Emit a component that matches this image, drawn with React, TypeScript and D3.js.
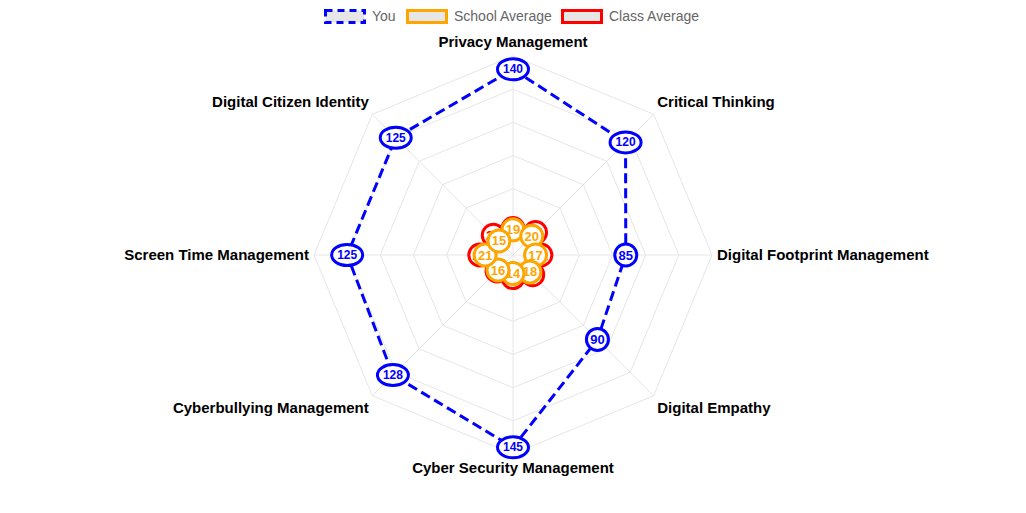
import React from 'react';
import * as d3 from 'd3';

// axis labels, clockwise from the top
const categories = [
  'Privacy Management',
  'Critical Thinking',
  'Digital Footprint Management',
  'Digital Empathy',
  'Cyber Security Management',
  'Cyberbullying Management',
  'Screen Time Management',
  'Digital Citizen Identity',
];

const youValues = [140, 120, 85, 90, 145, 128, 125, 125];
const schoolValues = [19, 20, 17, 18, 14, 16, 21, 15];
const classValues = [20, 24, 21, 21, 17, 17, 25, 21];

const gridTicks = [25, 50, 75, 100, 125, 150];

const W = 1026;
const H = 513;
const cx = 513;
const cy = 255;
const R = 199;
const FONT = '"Liberation Sans", Arial, Helvetica, sans-serif';

const series = [
  { name: 'Class Average', values: classValues, color: '#ff0000', dash: null },
  { name: 'School Average', values: schoolValues, color: '#ffa500', dash: null },
  { name: 'You', values: youValues, color: '#0000ff', dash: '10,5' },
];

const legendItems = [
  { name: 'You', color: '#0000ff', dash: '7,5', x: 324 },
  { name: 'School Average', color: '#ffa500', dash: null, x: 406 },
  { name: 'Class Average', color: '#ff0000', dash: null, x: 561 },
];

const rScale = d3.scaleLinear().domain([0, 150]).range([0, R]);
const angleOf = (i: number) => (i * 2 * Math.PI) / categories.length;
const pos = (i: number, r: number) => [
  cx + r * Math.sin(angleOf(i)),
  cy - r * Math.cos(angleOf(i)),
];

const radial = d3
  .lineRadial<number>()
  .angle((_, i) => angleOf(i))
  .radius((d) => rScale(d))
  .curve(d3.curveLinearClosed);

const App = () => {
  return (
    <div style={{ position: 'absolute', left: 0, top: 0 }}>
      <svg width={W} height={H} style={{ display: 'block', fontFamily: FONT }}>
        <rect width={W} height={H} fill="#fff" />

        {/* grid rings */}
        <g transform={`translate(${cx},${cy})`}>
          {gridTicks.map((t) => (
            <path
              key={t}
              d={radial(categories.map(() => t)) || ''}
              fill="none"
              stroke="#e6e6e6"
              strokeWidth={1}
            />
          ))}
        </g>

        {/* angle lines */}
        {categories.map((c, i) => {
          const [x, y] = pos(i, R);
          return (
            <line key={c} x1={cx} y1={cy} x2={x} y2={y} stroke="#e6e6e6" strokeWidth={1} />
          );
        })}

        {/* point labels */}
        {categories.map((c, i) => {
          const [x, y] = pos(i, R + 5);
          const s = Math.sin(angleOf(i));
          const co = Math.cos(angleOf(i));
          const anchor = s > 0.01 ? 'start' : s < -0.01 ? 'end' : 'middle';
          const dy = co > 0.01 ? -9 : co < -0.01 ? 8.5 : 0;
          return (
            <text
              key={c}
              x={x}
              y={y + dy - 0.5}
              textAnchor={anchor}
              dominantBaseline="central"
              fontSize={15}
              fontWeight="bold"
              fill="#000"
            >
              {c}
            </text>
          );
        })}

        {/* dataset lines */}
        <g transform={`translate(${cx},${cy})`}>
          {series.map((s) => (
            <path
              key={s.name}
              d={radial(s.values) || ''}
              fill="none"
              stroke={s.color}
              strokeWidth={3}
              strokeDasharray={s.dash || undefined}
            />
          ))}
        </g>

        {/* data labels */}
        {series.map((s) =>
          s.values.map((v, i) => {
            const [x, y] = pos(i, rScale(v));
            const label = String(v);
            const w = label.length > 2 ? 31 : 22;
            const h = label.length > 2 ? 21 : 22;
            return (
              <g key={s.name + i} transform={`translate(${x},${y})`}>
                <rect
                  x={-w / 2}
                  y={-h / 2}
                  width={w}
                  height={h}
                  rx={w / 2}
                  ry={h / 2}
                  fill="#fff"
                  stroke={s.color}
                  strokeWidth={3}
                />
                <text
                  textAnchor="middle"
                  dominantBaseline="central"
                  fontSize={label.length > 2 ? 12 : 13}
                  fontWeight="bold"
                  fill={s.color}
                >
                  {label}
                </text>
              </g>
            );
          })
        )}

        {/* legend */}
        {legendItems.map((l) => (
          <g key={l.name}>
            <rect
              x={l.x + 1.5}
              y={10.5}
              width={39}
              height={12}
              fill="#e6e6e6"
              stroke={l.color}
              strokeWidth={3}
              strokeDasharray={l.dash || undefined}
            />
            <text x={l.x + 48} y={16} dominantBaseline="central" fontSize={14} fill="#666">
              {l.name}
            </text>
          </g>
        ))}
      </svg>
    </div>
  );
};

export default App;
